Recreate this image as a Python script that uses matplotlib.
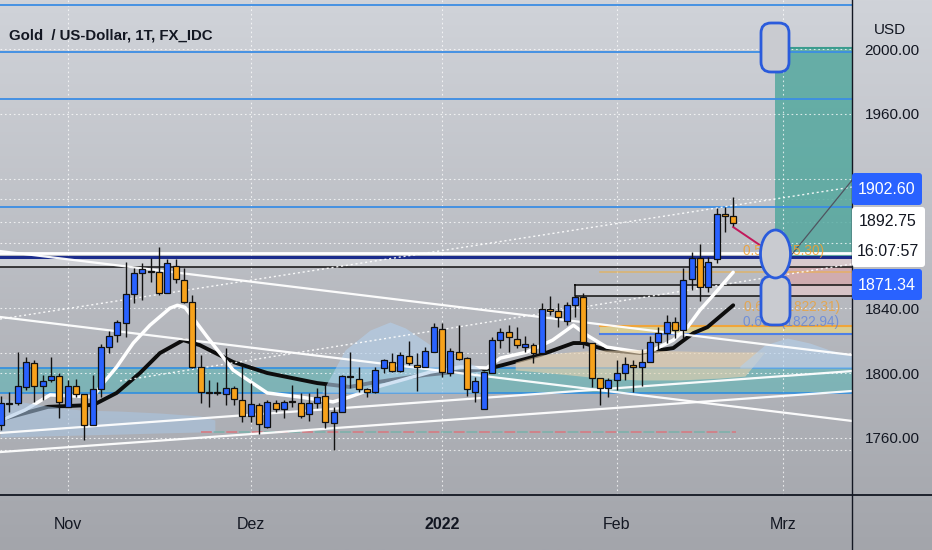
import numpy as np
import matplotlib.pyplot as plt
from matplotlib.patches import FancyBboxPatch, Ellipse

plt.rcParams['font.family'] = ['Liberation Sans', 'DejaVu Sans']

# daily XAUUSD candles, bar 0 = 20 Oct 2021, last bar = 21 Feb 2022
opens = [1767.8, 1781.4, 1781.4, 1791.3, 1806.2, 1791.9, 1795.7, 1798.1, 1778.9, 1791.9,
         1787.0, 1767.8, 1790.1, 1816.1, 1823.6, 1831.0, 1849.0, 1862.0, 1863.2, 1862.6,
         1849.6, 1866.3, 1857.7, 1844.0, 1803.7, 1788.2, 1788.2, 1787.0, 1790.7, 1783.3,
         1773.3, 1780.2, 1766.5, 1781.4, 1777.7, 1782.6, 1781.4, 1774.6, 1781.4, 1785.7,
         1769.0, 1775.8, 1798.1, 1796.3, 1790.1, 1788.2, 1803.1, 1806.8, 1801.2, 1810.5,
         1805.0, 1803.7, 1813.0, 1827.3, 1800.0, 1813.0, 1809.3, 1788.2, 1777.7, 1800.0,
         1820.5, 1825.4, 1821.1, 1816.1, 1817.4, 1812.4, 1839.7, 1838.4, 1832.2, 1842.2,
         1847.1, 1818.6, 1796.9, 1790.7, 1795.7, 1800.0, 1805.0, 1803.7, 1806.8, 1819.2,
         1824.8, 1831.6, 1826.7, 1858.3, 1870.7, 1853.3, 1870.1, 1898.0, 1896.7]
highs = [1785.7, 1788.2, 1813.0, 1809.9, 1808.1, 1798.8, 1809.9, 1800.0, 1795.7, 1796.3,
         1787.0, 1798.8, 1818.0, 1826.0, 1832.9, 1868.8, 1865.1, 1868.2, 1871.3, 1877.5,
         1870.1, 1870.1, 1865.1, 1848.4, 1811.2, 1795.7, 1794.4, 1815.5, 1791.9, 1806.2,
         1793.8, 1781.4, 1783.3, 1783.3, 1783.3, 1792.6, 1787.6, 1787.6, 1790.7, 1792.6,
         1778.9, 1798.8, 1813.0, 1803.7, 1790.7, 1803.7, 1808.7, 1812.4, 1813.0, 1819.8,
         1812.4, 1816.1, 1831.0, 1831.0, 1815.5, 1829.8, 1809.9, 1797.5, 1801.2, 1822.3,
         1827.9, 1829.8, 1828.5, 1822.9, 1818.6, 1843.4, 1847.7, 1843.4, 1844.0, 1848.4,
         1849.6, 1818.6, 1796.9, 1796.9, 1808.1, 1809.9, 1808.1, 1814.9, 1822.9, 1828.5,
         1836.0, 1834.7, 1865.1, 1874.4, 1879.4, 1871.9, 1901.7, 1902.3, 1908.5]
lows = [1764.7, 1775.8, 1780.2, 1789.5, 1782.0, 1783.3, 1794.4, 1772.1, 1778.9, 1785.1,
        1758.5, 1767.8, 1785.1, 1812.4, 1819.2, 1822.3, 1843.4, 1845.3, 1856.4, 1848.4,
        1849.6, 1855.8, 1843.4, 1803.1, 1781.4, 1778.9, 1786.4, 1780.2, 1780.2, 1769.6,
        1769.6, 1762.2, 1765.9, 1775.8, 1772.1, 1778.9, 1772.1, 1770.2, 1778.3, 1765.9,
        1752.3, 1775.8, 1790.7, 1788.2, 1785.1, 1787.6, 1800.0, 1800.6, 1800.6, 1805.0,
        1788.8, 1803.7, 1813.0, 1797.5, 1798.1, 1808.1, 1785.7, 1782.0, 1777.7, 1800.0,
        1815.5, 1813.0, 1815.5, 1813.0, 1806.2, 1812.4, 1836.0, 1828.5, 1829.8, 1834.7,
        1815.5, 1791.3, 1780.2, 1785.1, 1789.5, 1795.7, 1788.2, 1791.9, 1806.8, 1814.3,
        1818.6, 1821.7, 1821.7, 1851.5, 1844.6, 1850.2, 1867.6, 1886.8, 1890.5]
closes = [1781.4, 1780.8, 1791.9, 1806.8, 1791.9, 1795.0, 1798.1, 1782.0, 1791.9, 1787.0,
          1767.8, 1790.1, 1816.1, 1822.9, 1831.6, 1849.0, 1862.0, 1864.5, 1862.6, 1849.6,
          1867.6, 1858.3, 1844.0, 1803.7, 1788.2, 1787.6, 1787.6, 1790.7, 1783.9, 1773.3,
          1780.8, 1768.4, 1782.0, 1777.7, 1782.0, 1782.0, 1773.3, 1781.4, 1785.1, 1769.6,
          1775.8, 1798.1, 1797.5, 1790.1, 1788.2, 1801.9, 1808.1, 1801.2, 1811.2, 1806.2,
          1803.7, 1813.6, 1828.5, 1800.6, 1813.6, 1808.7, 1790.1, 1795.0, 1800.6, 1820.5,
          1825.4, 1822.3, 1817.4, 1818.0, 1812.4, 1839.7, 1838.4, 1834.7, 1842.2, 1847.1,
          1819.2, 1796.9, 1790.7, 1795.7, 1800.0, 1805.6, 1803.7, 1806.8, 1819.2, 1824.8,
          1831.6, 1826.7, 1857.7, 1870.7, 1853.3, 1868.8, 1898.0, 1896.7, 1892.8]

month_pos = [8, 30, 53, 74, 94]
month_labels = ['Nov', 'Dez', '2022', 'Feb', 'Mrz']
price_ticks = [1760, 1800, 1840, 1880, 1920, 1960, 2000]
hidden_ticks = [1880, 1920]  # covered by the price boxes

# moving averages (bar index, price)
ma_fast_x = [-0.12, 2.9, 5.9, 11.1, 11.9, 13.9, 15.9, 17.9, 20.3, 21.2, 22.1, 24.8, 27.9,
             32.0, 35.9, 39.9, 41.9, 45.6, 51.6, 55.2, 58.4, 60.0, 63.2, 66.3, 68.8, 70.4,
             72.8, 76.8, 78.4, 80.8, 82.5, 84.0, 85.6, 88.0]
ma_fast_y = [1770.5, 1777.2, 1786.5, 1785.2, 1791.4, 1803.7, 1818.5, 1829.5, 1840.0, 1841.8,
             1840.6, 1822.2, 1801.8, 1787.7, 1785.2, 1782.2, 1785.2, 1792.0, 1800.6, 1803.7,
             1803.1, 1809.2, 1812.9, 1820.3, 1829.5, 1823.4, 1816.0, 1812.9, 1814.2, 1820.3,
             1828.3, 1838.8, 1848.0, 1862.2]
ma_slow_x = [-0.12, 5.65, 11.1, 13.9, 16.7, 19.1, 21.9, 23.9, 27.9, 32.0, 38.0, 41.9, 44.4,
             51.0, 58.4, 60.3, 64.8, 68.8, 70.0, 72.8, 76.8, 80.8, 83.2, 84.9, 88.0]
ma_slow_y = [1771.1, 1779.1, 1780.3, 1787.7, 1800.0, 1812.3, 1820.3, 1817.2, 1806.8, 1800.0,
             1793.8, 1791.4, 1793.8, 1798.8, 1802.5, 1804.9, 1811.1, 1818.5, 1818.5, 1814.2,
             1812.3, 1815.4, 1824.6, 1828.3, 1841.8]

# cloud areas (bar index, upper, lower)
cloud_a_x = [-0.12, 4.7, 9.5, 14.3, 19.1, 23.9, 25.7]
cloud_a_top = [1784.6, 1780.2, 1777.2, 1776.5, 1775.3, 1773.5, 1771.0]
cloud_a_bot = [1760.5, 1761.1, 1761.7, 1762.3, 1763.0, 1763.6, 1763.6]
cloud_b_x = [38.6, 41.35, 44.35, 46.75, 48.6, 51.6, 54.0, 56.1, 57.8]
cloud_b_top = [1788.3, 1814.2, 1826.5, 1831.5, 1827.8, 1817.3, 1813.0, 1806.8, 1801.9]
cloud_b_bot = [1787.7] * 9
cloud_c_x = [61.8, 64.8, 68.4, 72.0, 76.8, 81.6, 86.4, 89.4, 91.8]
cloud_c_top = [1806.8, 1811.1, 1813.0, 1814.2, 1814.2, 1813.6, 1813.0, 1813.0, 1813.0]
cloud_c_bot = [1801.9, 1800.6, 1798.8, 1796.9, 1795.7, 1795.7, 1796.9, 1798.1, 1813.0]
cloud_d_x = [88.8, 91.8, 94.5, 97.2, 99.6, 102.3]
cloud_d_top = [1804.3, 1817.3, 1821.6, 1818.5, 1814.2, 1810.5]
cloud_d_bot = [1803.1] * 6

# drawings: levels and trend lines
blue_levels = [2027.2, 1998.0, 1969.1, 1902.6]
dotted_levels = [1907.4, 1893.2, 1812.3, 1752.6]
zone_top, zone_white, zone_low = 1871.34, 1874.1, 1865.4
box_top, box_bot = 1854.3, 1847.5
teal_band = (1787.7, 1803.1)
fib_band = (1824.1, 1829.0)
trend_solid = [((-0.12, 1875.3), (102.3, 1811.1)),
               ((-0.12, 1834.6), (102.3, 1770.4)),
               ((-0.12, 1751.2), (102.3, 1788.9)),
               ((-0.12, 1763.0), (102.3, 1801.2))]
trend_dotted = [((-0.12, 1833.3), (102.3, 1914.8)),
                ((14.3, 1795.1), (102.3, 1867.3))]
entry, target, stop = 1871.34, 2000.6, 1847.0

W, H = 932, 550
fig = plt.figure(figsize=(W / 100, H / 100), dpi=100)

bg = fig.add_axes([0, 0, 1, 1], zorder=0)
top_c = np.array([208, 211, 217]) / 255
bot_c = np.array([163, 165, 171]) / 255
t = np.linspace(0, 1, 256)[:, None, None]
bg.imshow(top_c * (1 - t) + bot_c * t, aspect='auto', extent=[0, 1, 0, 1])
bg.axis('off')

ax = fig.add_axes([0, 55 / H, 852 / W, 495 / H], zorder=1)
ax.patch.set_alpha(0)
ax.set_xlim(-0.12, 102.28)
ax.set_ylim(1724.7, 2030.25)
for s in ax.spines.values():
    s.set_visible(False)

ax.set_yticks(price_ticks)
ax.set_yticklabels(['' if p in hidden_ticks else '{:.2f}'.format(p) for p in price_ticks])
ax.yaxis.tick_right()
ax.set_xticks(month_pos)
ax.set_xticklabels(month_labels)
ax.xaxis.get_ticklabels()[2].set_fontweight('bold')
ax.tick_params(axis='y', length=0, pad=9, labelsize=11, labelcolor='#131722')
ax.tick_params(axis='x', length=0, pad=16, labelsize=11.5, labelcolor='#131722')
ax.grid(True, color='white', alpha=0.75, lw=0.8, ls=(0, (1.5, 2.5)), zorder=0)

for lvl in dotted_levels:
    ax.axhline(lvl, color='white', alpha=0.75, lw=0.8, ls=(0, (1.5, 2.5)), zorder=0.5)

# long position tool
ax.fill_between([93.0, 102.3], target, entry, color='#4aa59a', alpha=0.78, lw=0, zorder=1)
ax.plot([93.0, 102.3], [target, target], color='#3a9c8e', lw=1.5, zorder=1.1)
ax.fill_between([93.0, 102.3], entry, stop, color='#e0a2a4', alpha=0.6, lw=0, zorder=1)

# zones
ax.fill_between([-1, 103], teal_band[0], teal_band[1], color='#5db5b5', alpha=0.6, lw=0, zorder=1)
for lvl in teal_band:
    ax.axhline(lvl, color='#2f8ee0', lw=1.2, zorder=2)
ax.fill_between([-1, 103], zone_low, zone_top, color='#e2e3e6', alpha=0.55, lw=0, zorder=1)
ax.fill_between([69.0, 103], box_bot, box_top, color='#e2e3e6', alpha=0.45, lw=0, zorder=1)
ax.plot([69.0, 103, 103, 69.0, 69.0], [box_top, box_top, box_bot, box_bot, box_top],
        color='#111111', lw=1.1, zorder=2)
ax.fill_between([72.0, 103], fib_band[0], fib_band[1], color='#f2dc7a', alpha=0.6, lw=0, zorder=1)
ax.plot([72.0, 103], [fib_band[1]] * 2, color='#f0a53a', lw=1.5, zorder=2)
ax.plot([72.0, 103], [fib_band[0]] * 2, color='#4d7fe6', lw=1.5, zorder=2)
ax.plot([72.0, 103], [1862.6] * 2, color='#f0b040', lw=1.2, alpha=0.6, zorder=2)

for lvl in blue_levels:
    ax.axhline(lvl, color='#3b8de4', lw=1.3, zorder=2)
ax.axhline(zone_white, color='white', lw=2.0, zorder=2)
ax.axhline(zone_top, color='#1b2c8c', lw=2.2, zorder=2.1)
ax.axhline(zone_low, color='#111111', lw=1.1, zorder=2)

# moving averages, then translucent clouds on top
ax.plot(ma_slow_x, ma_slow_y, color='#0d0d0d', lw=2.8, solid_capstyle='round', zorder=3)
ax.plot(ma_fast_x, ma_fast_y, color='white', lw=2.5, solid_capstyle='round', zorder=3)
ax.fill_between(cloud_a_x, cloud_a_bot, cloud_a_top, color='#a9c6e4', alpha=0.55, lw=0, zorder=4)
ax.fill_between(cloud_b_x, cloud_b_bot, cloud_b_top, color='#b3d0ec', alpha=0.6, lw=0, zorder=4)
ax.fill_between(cloud_c_x, cloud_c_bot, cloud_c_top, color='#e9d2ae', alpha=0.6, lw=0, zorder=4)
ax.fill_between(cloud_d_x, cloud_d_bot, cloud_d_top, color='#b3d0ec', alpha=0.6, lw=0, zorder=4)
ax.plot([24, 88.3], [1763.6, 1763.6], color='#d27f86', lw=1.3, ls=(0, (6, 8)), zorder=4)
ax.plot([24, 88.3], [1763.6, 1763.6], color='#6fb2a8', lw=1.3, ls=(7, (6, 8)), alpha=0.7, zorder=4)

for (x0, y0), (x1, y1) in trend_solid:
    ax.plot([x0, x1], [y0, y1], color='white', lw=1.6, alpha=0.95, zorder=5)
for (x0, y0), (x1, y1) in trend_dotted:
    ax.plot([x0, x1], [y0, y1], color='white', lw=1.0, ls=(0, (1.5, 2)), alpha=0.9, zorder=5)
ax.plot([94.8, 102.3], [1871.6, 1919.1], color='#4f5460', lw=0.9, zorder=5)
ax.plot([88.0, 91.2], [1890.1, 1879.0], color='#c2185b', lw=1.4, zorder=5)

# candles
idx = np.arange(len(opens))
o = np.array(opens)
c = np.array(closes)
colors = np.where(c >= o, '#2962ff', '#f7a21b')
ax.vlines(idx, lows, highs, color='#111111', lw=1.0, zorder=6)
ax.bar(idx, np.abs(c - o), bottom=np.minimum(o, c), width=0.72, color=colors,
       edgecolor='#111111', linewidth=0.9, zorder=7)

# overlay in pixel coordinates: frame, labels, handles
ov = fig.add_axes([0, 0, 1, 1], zorder=2)
ov.set_xlim(0, W)
ov.set_ylim(H, 0)
ov.axis('off')
ov.patch.set_alpha(0)
ov.plot([852, 852], [0, H], color='#131722', lw=1.0)
ov.plot([0, W], [495, 495], color='#131722', lw=1.3)

ov.text(9, 35, 'Gold  / US-Dollar, 1T, FX_IDC', fontsize=10.8, fontweight='bold',
        color='#131722', va='center')
ov.text(890, 30, 'USD', fontsize=11, color='#131722', ha='center', va='center')

ov.text(743, 251, '0.5 (1855.30)', fontsize=9.8, color='#f0a030', alpha=0.85, va='center', zorder=3)
ov.text(744, 307, '0.667 (1822.31)', fontsize=9.8, color='#f0a030', alpha=0.75, va='center', zorder=3)
ov.text(743, 322, '0.667 (1822.94)', fontsize=9.8, color='#5a82e0', alpha=0.75, va='center', zorder=3)

handle_kw = dict(edgecolor='#2a5bdc', facecolor='#c9cbd0', lw=2.0, zorder=5)
ov.add_patch(FancyBboxPatch((761, 23), 28, 49, boxstyle='round,pad=0,rounding_size=10', **handle_kw))
ov.add_patch(FancyBboxPatch((761, 276), 29, 49, boxstyle='round,pad=0,rounding_size=11', **handle_kw))
ov.add_patch(Ellipse((775.5, 254), 30, 48, **handle_kw))

ov.add_patch(FancyBboxPatch((852, 173), 70, 32, boxstyle='round,pad=0,rounding_size=3',
                            facecolor='#2962ff', edgecolor='none', zorder=6))
ov.text(887, 189.5, '1902.60', fontsize=11.5, color='white', ha='center', va='center', zorder=7)
ov.add_patch(FancyBboxPatch((852, 207), 73, 60, boxstyle='round,pad=0,rounding_size=3',
                            facecolor='white', edgecolor='none', zorder=6))
ov.text(888, 222, '1892.75', fontsize=11.5, color='#131722', ha='center', va='center', zorder=7)
ov.text(888, 251, '16:07:57', fontsize=11.5, color='#131722', ha='center', va='center', zorder=7)
ov.add_patch(FancyBboxPatch((852, 269), 70, 31, boxstyle='round,pad=0,rounding_size=3',
                            facecolor='#2962ff', edgecolor='none', zorder=6))
ov.text(887, 285, '1871.34', fontsize=11.5, color='white', ha='center', va='center', zorder=7)

fig.savefig('out.png', dpi=100)
